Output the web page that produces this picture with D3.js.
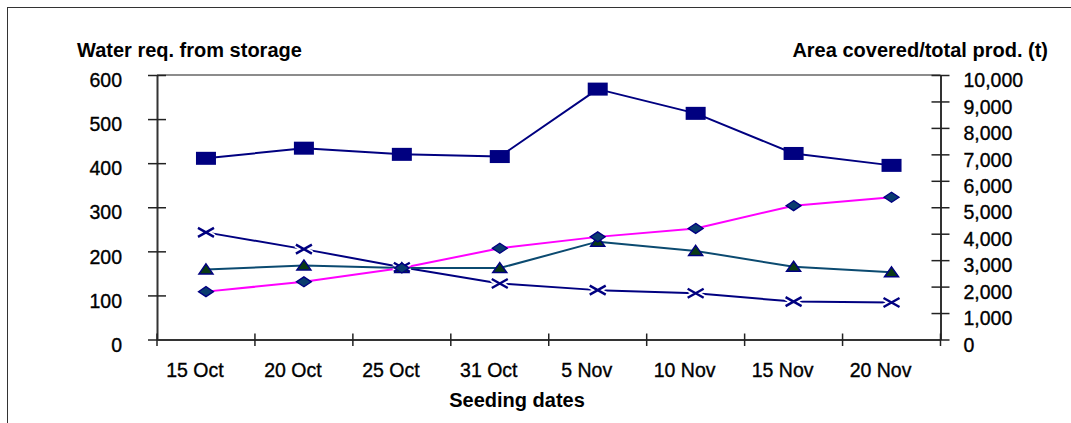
<!DOCTYPE html>
<html>
<head>
<meta charset="utf-8">
<script src="https://cdn.jsdelivr.net/npm/d3@7/dist/d3.min.js"></script>
<style>
  html, body { margin: 0; padding: 0; background: #fff; }
  svg { display: block; font-family: "Liberation Sans", Arial, sans-serif; }
</style>
</head>
<body>
<svg id="chart" width="1071" height="423"></svg>
<script>
// Seeding dates (categories)
const seedingDates = ["15 Oct", "20 Oct", "25 Oct", "31 Oct", "5 Nov", "10 Nov", "15 Nov", "20 Nov"];

// Left-axis series
const waterFromStorage = [411, 434, 420, 415, 568, 513, 422, 395];   // squares
const irrigationDepth  = [243, 205, 164, 127, 112, 105, 86, 84];     // crosses

// Right-axis series
const areaCovered = [1810, 2180, 2700, 3450, 3880, 4200, 5060, 5380]; // diamonds
const totalProd   = [2650, 2800, 2700, 2700, 3700, 3350, 2750, 2540]; // triangles

// Axis ticks
const leftTicks  = [0, 100, 200, 300, 400, 500, 600];
const rightTicks = [0, 1000, 2000, 3000, 4000, 5000, 6000, 7000, 8000, 9000, 10000];

const svg = d3.select("#chart");
const L = 157, R = 940.5, T = 75, B = 339.5;

const x  = d3.scaleBand().domain(seedingDates).range([L, R]);
const yL = d3.scaleLinear().domain([0, 600]).range([B, T]);
const yR = d3.scaleLinear().domain([0, 10000]).range([B, T]);
const cx = d => x(d) + x.bandwidth() / 2;

// outer frame
svg.append("rect").attr("x", 7.5).attr("y", 7.5).attr("width", 1100).attr("height", 440)
  .attr("fill", "none").attr("stroke", "#333").attr("stroke-width", 1);

// plot top border
svg.append("line").attr("x1", L).attr("x2", R).attr("y1", T).attr("y2", T)
  .attr("stroke", "#8c8c8c").attr("stroke-width", 2);

const tickFont = "19.5px";
const heavy = sel => sel.attr("fill", "#000").attr("stroke", "#000").attr("stroke-width", 0.35);

// left axis
const gL = svg.append("g").attr("transform", `translate(${L},0)`)
  .call(d3.axisLeft(yL).tickValues(leftTicks).tickSize(9).tickSizeOuter(0).tickPadding(26));
gL.select(".domain").attr("stroke", "#333").attr("stroke-width", 2);
gL.selectAll(".tick line").attr("x1", 9).attr("stroke", "#222").attr("stroke-width", 1.5);
gL.selectAll(".tick text").attr("font-size", tickFont).attr("dy", "0.6em").call(heavy);

// right axis
const gR = svg.append("g").attr("transform", `translate(${R},0)`)
  .call(d3.axisRight(yR).tickValues(rightTicks).tickFormat(d3.format(",")).tickSize(9).tickSizeOuter(0).tickPadding(14));
gR.select(".domain").attr("stroke", "#333").attr("stroke-width", 2);
gR.selectAll(".tick line").attr("x1", -9).attr("stroke", "#222").attr("stroke-width", 1.5);
gR.selectAll(".tick text").attr("font-size", tickFont).attr("dy", "0.6em").call(heavy);

// bottom axis: labels at category centres, tick marks at category boundaries
const gB = svg.append("g").attr("transform", `translate(0,${B})`)
  .call(d3.axisBottom(x).tickSize(0).tickPadding(0));
gB.select(".domain").attr("stroke", "#333").attr("stroke-width", 2);
gB.selectAll(".tick text").attr("font-size", tickFont)
  .attr("x", -11).attr("dy", 0).attr("y", 37).call(heavy);
const bounds = seedingDates.map(d => x(d)).concat([R]);
svg.append("g").selectAll("line").data(bounds).join("line")
  .attr("x1", d => d).attr("x2", d => d).attr("y1", B - 6).attr("y2", B + 6.5)
  .attr("stroke", "#222").attr("stroke-width", 1.5);

// titles
svg.append("text").attr("x", 77).attr("y", 57).attr("font-size", "20px").attr("font-weight", "bold")
  .text("Water req. from storage");
svg.append("text").attr("x", 1048).attr("y", 57).attr("font-size", "20px").attr("font-weight", "bold")
  .attr("text-anchor", "end").text("Area covered/total prod. (t)");
svg.append("text").attr("x", 517).attr("y", 407).attr("font-size", "20px").attr("font-weight", "bold")
  .attr("text-anchor", "middle").text("Seeding dates");

// series lines
const series = [
  { vals: irrigationDepth,  y: yL, color: "#000080", marker: "cross" },
  { vals: totalProd,        y: yR, color: "#0b4a70", marker: "triangle" },
  { vals: areaCovered,      y: yR, color: "#ff00ff", marker: "diamond" },
  { vals: waterFromStorage, y: yL, color: "#000080", marker: "square" }
];
const line = s => d3.line().x((v, i) => cx(seedingDates[i])).y(v => s.y(v));
series.forEach(s => {
  svg.append("path").datum(s.vals).attr("d", line(s)).attr("fill", "none")
    .attr("stroke", s.color).attr("stroke-width", 2).attr("stroke-linejoin", "round");
});

// markers
const mk = svg.append("g");
series.forEach(s => {
  const pts = s.vals.map((v, i) => [cx(seedingDates[i]), s.y(v)]);
  pts.forEach(([px, py]) => {
    if (s.marker === "cross") {
      const p = `M${px - 8},${py - 4.5}L${px + 8},${py + 4.5}M${px - 8},${py + 4.5}L${px + 8},${py - 4.5}`;
      mk.append("path").attr("d", p).attr("stroke", "#fff").attr("stroke-width", 6).attr("fill", "none");
      mk.append("path").attr("d", p).attr("stroke", "#000080").attr("stroke-width", 2.4).attr("fill", "none");
    } else if (s.marker === "triangle") {
      mk.append("path").attr("d", `M${px},${py - 5.5}L${px + 7},${py + 4.5}L${px - 7},${py + 4.5}Z`)
        .attr("fill", "#0a3a14").attr("stroke", "#000080").attr("stroke-width", 1.5);
    } else if (s.marker === "diamond") {
      mk.append("path").attr("d", `M${px},${py - 5}L${px + 7.5},${py}L${px},${py + 5}L${px - 7.5},${py}Z`)
        .attr("fill", "#0a3c6e").attr("stroke", "#000080").attr("stroke-width", 1.3);
    } else {
      mk.append("rect").attr("x", px - 10).attr("y", py - 6.5).attr("width", 20).attr("height", 13)
        .attr("fill", "#000080");
    }
  });
});
</script>
</body>
</html>
